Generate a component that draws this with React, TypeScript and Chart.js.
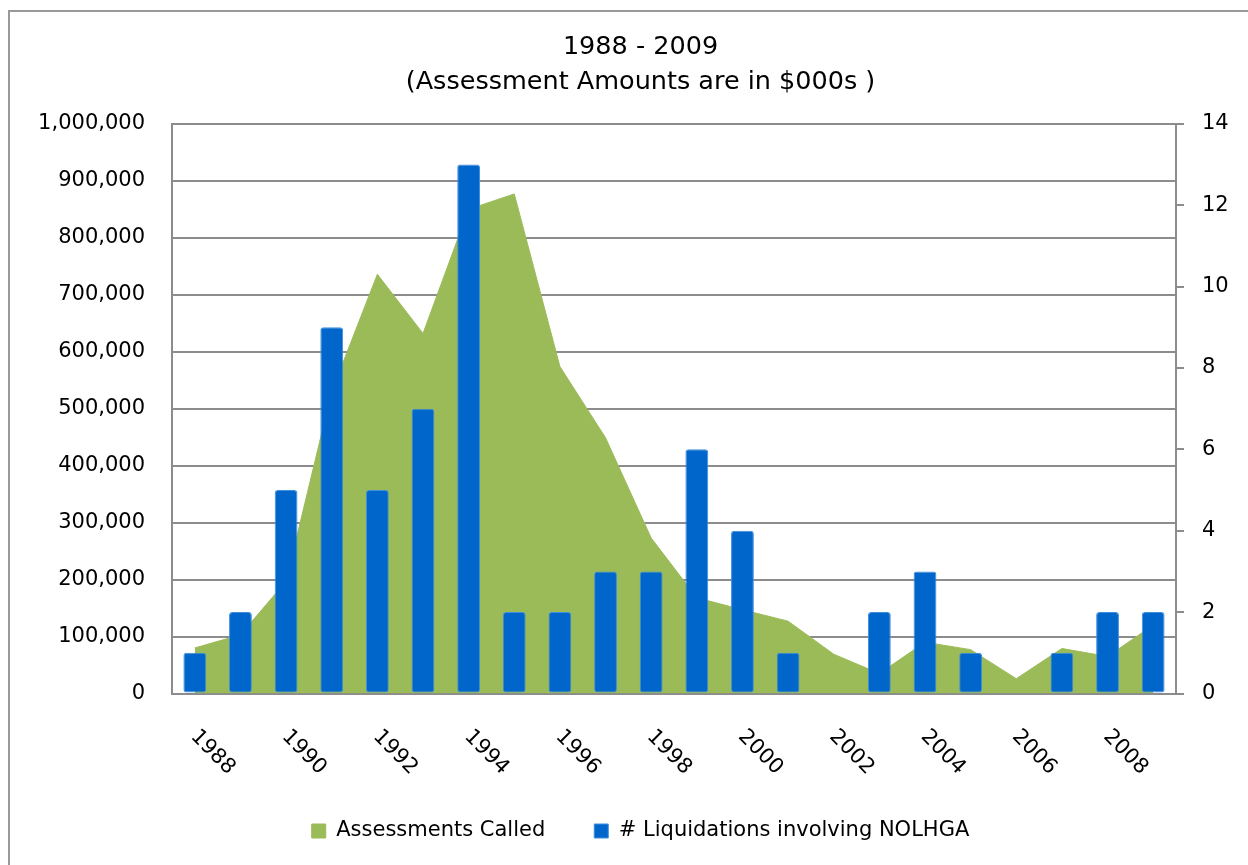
import React, { useEffect, useRef } from 'react';
import { Chart, registerables } from 'chart.js';

Chart.register(...registerables);

const years = ['1988', '1989', '1990', '1991', '1992', '1993', '1994', '1995', '1996', '1997', '1998', '1999', '2000', '2001', '2002', '2003', '2004', '2005', '2006', '2007', '2008', '2009'];
const assessmentsCalled = [80000, 103000, 197000, 530000, 736000, 632000, 850000, 877000, 574000, 449000, 273000, 168000, 147000, 127000, 69000, 35000, 90000, 77000, 26000, 79000, 65000, 120000];
const liquidations = [1, 2, 5, 9, 5, 7, 13, 2, 2, 3, 3, 6, 4, 1, 0, 2, 3, 1, 0, 1, 2, 2];
const titleLines = ['1988 - 2009', '(Assessment Amounts are in $000s )'];
const seriesNames = ['Assessments Called', '# Liquidations involving NOLHGA'];

const GREEN = '#9BBB59';
const BLUE = '#0066CC';
const GRID = '#8C8C8C';
const FONT = 'DejaVu Sans';

const xLabelsPlugin = {
  id: 'rotatedXLabels',
  afterDraw(chart: any) {
    const xs = chart.scales.x;
    const ctx = chart.ctx;
    const bottom = chart.chartArea.bottom;
    ctx.save();
    ctx.fillStyle = '#000';
    ctx.font = `21px "${FONT}"`;
    ctx.textAlign = 'left';
    ctx.textBaseline = 'middle';
    years.forEach((label, i) => {
      if (i % 2 !== 0) return;
      const x = xs.getPixelForValue(i);
      ctx.save();
      ctx.translate(x - 1, bottom + 40);
      ctx.rotate(Math.PI / 4);
      ctx.fillText(label, 0, 0);
      ctx.restore();
    });
    ctx.restore();
  },
};

export default function App() {
  const ref = useRef<HTMLCanvasElement | null>(null);

  useEffect(() => {
    if (!ref.current) return;
    const chart = new Chart(ref.current, {
      data: {
        labels: years,
        datasets: [
          {
            type: 'line',
            label: seriesNames[0],
            data: assessmentsCalled,
            yAxisID: 'y',
            backgroundColor: GREEN,
            borderColor: GREEN,
            borderWidth: 1,
            fill: 'origin',
            pointRadius: 0,
            tension: 0,
            order: 1,
          },
          {
            type: 'bar',
            label: seriesNames[1],
            data: liquidations,
            yAxisID: 'y1',
            backgroundColor: BLUE,
            borderColor: '#3D8EDD',
            borderWidth: 1,
            borderRadius: 3,
            borderSkipped: false,
            barPercentage: 0.5,
            categoryPercentage: 1,
            order: 0,
          },
        ],
      } as any,
      options: {
        animation: false,
        responsive: false,
        maintainAspectRatio: false,
        layout: { padding: { top: 29.5, left: 33, right: 0, bottom: 13.5 } },
        plugins: {
          tooltip: { enabled: false },
          title: {
            display: true,
            text: titleLines,
            color: '#000',
            font: { family: FONT, size: 25.5, weight: 'normal', lineHeight: 1.37 },
            padding: { top: 0, bottom: 24.5 },
          },
          legend: {
            display: true,
            position: 'bottom',
            labels: {
              color: '#000',
              boxWidth: 14,
              boxHeight: 14,
              padding: 49,
              font: { family: FONT, size: 21 },
              sort: (a: any, b: any) => a.datasetIndex - b.datasetIndex,
            },
          },
        },
        scales: {
          x: {
            type: 'category',
            offset: true,
            grid: { display: false, drawTicks: false },
            border: { display: true, color: GRID, width: 2 },
            ticks: { display: false },
            afterFit: (s: any) => { s.height = 78; },
          },
          y: {
            type: 'linear',
            position: 'left',
            min: 0,
            max: 1000000,
            ticks: {
              stepSize: 100000,
              color: '#000',
              padding: 27,
              font: { family: FONT, size: 21 },
              callback: (v: any) => Number(v).toLocaleString('en-US'),
            },
            grid: { color: GRID, lineWidth: 2, drawTicks: false },
            border: { display: true, color: GRID, width: 2 },
            afterFit: (s: any) => { s.width = 139; },
          },
          y1: {
            type: 'linear',
            position: 'right',
            min: 0,
            max: 14,
            ticks: {
              stepSize: 2,
              color: '#000',
              padding: 18,
              font: { family: FONT, size: 21 },
            },
            grid: { drawOnChartArea: false, drawTicks: true, tickLength: 8, color: GRID, lineWidth: 2 },
            border: { display: true, color: GRID, width: 2 },
            afterFit: (s: any) => { s.width = 72; },
          },
        },
      } as any,
      plugins: [xLabelsPlugin],
    });
    return () => chart.destroy();
  }, []);

  return (
    <div style={{ position: 'absolute', left: 0, top: 0, width: 1248, height: 865, overflow: 'hidden', background: '#fff' }}>
      <canvas ref={ref} width={1248} height={865} style={{ position: 'absolute', left: 0, top: 0, width: 1248, height: 865 }} />
      <div style={{ position: 'absolute', left: 8, top: 10, width: 1400, height: 1000, border: '2px solid #999', pointerEvents: 'none' }} />
    </div>
  );
}
